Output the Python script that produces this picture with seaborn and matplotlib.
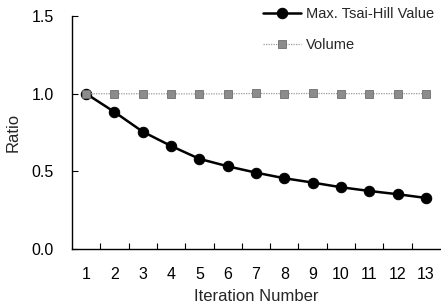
import matplotlib
matplotlib.use("Agg")
import matplotlib.pyplot as plt
import seaborn as sns
import pandas as pd
from matplotlib.ticker import FixedLocator, MultipleLocator, FormatStrFormatter

iterations = list(range(1, 14))
tsai_hill = [1.0, 0.882, 0.755, 0.663, 0.58, 0.532, 0.491, 0.455, 0.427, 0.397, 0.373, 0.352, 0.328]
volume = [1.0, 0.999, 0.999, 0.999, 0.998, 0.999, 1.001, 1.0, 1.001, 1.0, 1.0, 1.0, 1.0]
series_names = ["Max. Tsai-Hill Value", "Volume"]

sns.set_style("ticks")
plt.rcParams['font.family'] = ['Liberation Sans', 'DejaVu Sans']

fig = plt.figure(figsize=(4.41, 3.08), dpi=100)
ax = fig.add_axes([0.163, 0.192, 0.835, 0.756])

df_t = pd.DataFrame({"Iteration": iterations, "Ratio": tsai_hill})
df_v = pd.DataFrame({"Iteration": iterations, "Ratio": volume})

sns.lineplot(data=df_t, x="Iteration", y="Ratio", ax=ax, color="black",
             linewidth=1.8, marker="o", markersize=7.5, markeredgecolor="black",
             label=series_names[0])
sns.lineplot(data=df_v, x="Iteration", y="Ratio", ax=ax, color="#9a9a9a",
             linewidth=0.9, linestyle=(0, (1, 1)), marker="s", markersize=6,
             markerfacecolor="#8c8c8c", markeredgecolor="#6e6e6e", markeredgewidth=0.6,
             label=series_names[1])

ax.set_xlim(0.5, 13.5)
ax.set_ylim(0, 1.5)
ax.xaxis.set_major_locator(FixedLocator(iterations))
ax.xaxis.set_minor_locator(FixedLocator([i + 0.5 for i in iterations[:-1]]))
ax.yaxis.set_major_locator(MultipleLocator(0.5))
ax.yaxis.set_major_formatter(FormatStrFormatter('%.1f'))
ax.tick_params(axis='x', which='major', length=0, pad=13, labelsize=11.5, colors='black')
ax.tick_params(axis='x', which='minor', direction='in', length=4, width=0.8, color='black')
ax.tick_params(axis='y', which='major', direction='in', length=4, width=0.8, pad=13, labelsize=11.5, colors='black')

ax.set_xlabel("Iteration Number", fontsize=12, labelpad=5)
ax.set_ylabel("Ratio", fontsize=12, labelpad=8)

for s in ['top', 'right']:
    ax.spines[s].set_visible(False)
for s in ['left', 'bottom']:
    ax.spines[s].set_color('black')
    ax.spines[s].set_linewidth(1.0)

leg = ax.legend(loc='upper right', frameon=False, fontsize=10.5, handlelength=2.6,
                handletextpad=0.35, borderaxespad=0.0, labelspacing=1.2,
                bbox_to_anchor=(1.0, 1.065))

fig.savefig("out.png", dpi=100)
